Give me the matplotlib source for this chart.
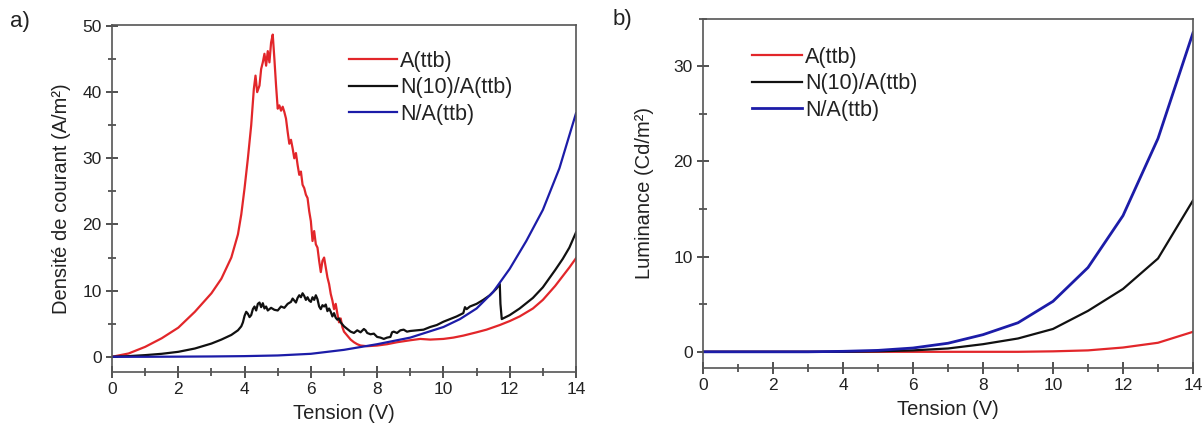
import matplotlib
matplotlib.use("Agg")
import matplotlib.pyplot as plt
from matplotlib.ticker import MultipleLocator

plt.rcParams['font.family'] = ['Liberation Sans', 'DejaVu Sans']

# ---------------- data: panel a (current density) ----------------
a_red_x = [0.0, 0.5, 1.0, 1.5, 2.0, 2.5, 3.0, 3.3, 3.6, 3.8, 3.9, 4.0, 4.1, 4.2, 4.28, 4.33,
           4.38, 4.45, 4.5, 4.55, 4.6, 4.65, 4.7, 4.75, 4.8, 4.85, 4.9, 4.95, 5.0, 5.05, 5.1,
           5.15, 5.2, 5.25, 5.3, 5.35, 5.4, 5.45, 5.5, 5.55, 5.6, 5.65, 5.7, 5.75, 5.8, 5.85,
           5.9, 5.95, 6.0, 6.05, 6.1, 6.15, 6.2, 6.25, 6.3, 6.35, 6.4, 6.45, 6.5, 6.55, 6.6,
           6.65, 6.7, 6.75, 6.8, 6.85, 6.9, 6.95, 7.0, 7.1, 7.2, 7.3, 7.4, 7.5, 7.7, 8.0, 8.3,
           8.6, 9.0, 9.3, 9.6, 10.0, 10.3, 10.6, 11.0, 11.3, 11.7, 12.0, 12.3, 12.7, 13.0,
           13.37, 13.6, 13.8, 14.0]
a_red_y = [0.0, 0.5, 1.5, 2.8, 4.4, 6.8, 9.6, 11.8, 15.0, 18.5, 21.5, 25.5, 30.0, 35.0, 40.5, 42.5,
           40.0, 41.0, 43.5, 44.5, 45.8, 44.0, 46.2, 44.5, 47.5, 48.7, 45.0, 41.0, 37.5, 38.0, 37.2,
           37.8, 37.0, 36.0, 34.0, 32.2, 32.8, 31.5, 30.0, 30.8, 29.0, 27.5, 28.0, 26.0, 25.5, 24.5,
           24.0, 22.0, 20.5, 17.5, 19.0, 17.0, 16.5, 14.5, 12.8, 14.5, 15.0, 13.5, 12.0, 11.0, 9.5,
           8.5, 7.2, 8.0, 6.5, 5.2, 5.8, 4.5, 3.8, 3.2, 2.6, 2.2, 1.9, 1.7, 1.6, 1.7, 1.9,
           2.2, 2.5, 2.7, 2.6, 2.7, 2.9, 3.2, 3.7, 4.1, 4.8, 5.4, 6.1, 7.3, 8.6,
           10.7, 12.2, 13.5, 14.9]

a_black_x = [0.0, 0.5, 1.0, 1.5, 2.0, 2.5, 3.0, 3.3, 3.6, 3.8, 3.9, 3.95, 4.0, 4.05, 4.1, 4.15,
             4.2, 4.25, 4.3, 4.35, 4.4, 4.45, 4.5, 4.55, 4.6, 4.65, 4.7, 4.8, 4.9, 5.0, 5.1, 5.2,
             5.3, 5.4, 5.45, 5.5, 5.55, 5.6, 5.65, 5.7, 5.75, 5.8, 5.85, 5.9, 5.95, 6.0, 6.05,
             6.1, 6.15, 6.2, 6.25, 6.3, 6.35, 6.4, 6.45, 6.5, 6.55, 6.6, 6.65, 6.7, 6.75, 6.8,
             6.85, 6.9, 6.95, 7.0, 7.1, 7.2, 7.3, 7.4, 7.5, 7.6, 7.65, 7.7, 7.8, 7.9, 8.0, 8.1,
             8.2, 8.3, 8.4, 8.45, 8.5, 8.6, 8.7, 8.8, 8.9, 9.0, 9.2, 9.4, 9.6, 9.8, 10.0, 10.2,
             10.4, 10.6, 10.65, 10.7, 10.8, 11.0, 11.2, 11.4, 11.6, 11.7, 11.72, 11.76, 12.0,
             12.3, 12.7, 13.0, 13.37, 13.6, 13.8, 14.0]
a_black_y = [0.0, 0.1, 0.25, 0.45, 0.75, 1.25, 2.0, 2.6, 3.3, 4.0, 4.6, 5.2, 6.2, 6.8, 6.5, 6.0,
             6.3, 7.2, 7.6, 7.0, 8.0, 8.2, 7.5, 8.1, 7.3, 7.6, 7.0, 7.4, 7.1, 7.0, 7.6, 7.4,
             8.0, 8.3, 8.8, 8.5, 8.2, 8.9, 9.3, 9.0, 9.6, 9.2, 8.6, 9.0, 8.5, 8.3, 9.0,
             8.6, 9.3, 8.7, 7.6, 7.2, 7.8, 7.6, 7.9, 6.9, 7.3, 6.8, 6.1, 6.6, 5.9, 5.6,
             5.8, 5.2, 4.9, 4.6, 4.2, 3.8, 3.6, 4.0, 3.7, 4.2, 4.0, 3.6, 3.4, 3.5, 3.0, 2.9,
             2.7, 2.9, 3.0, 3.7, 3.8, 3.6, 4.0, 4.1, 3.8, 3.9, 4.0, 4.1, 4.5, 4.8, 5.3, 5.7,
             6.1, 6.6, 7.5, 7.2, 7.6, 8.0, 8.6, 9.3, 10.3, 11.0, 8.0, 5.7, 6.3,
             7.3, 8.9, 10.5, 13.1, 14.8, 16.5, 18.8]

a_blue_x = [0, 1, 2, 3, 4, 5, 6, 7, 8, 9, 10, 10.5, 11, 11.5, 12, 12.5, 13, 13.5, 14]
a_blue_y = [0.0, 0.0, 0.02, 0.05, 0.1, 0.2, 0.45, 1.05, 1.9, 2.9, 4.5, 5.7, 7.3, 9.8, 13.3,
            17.5, 22.2, 28.5, 36.8]

# ---------------- data: panel b (luminance) ----------------
b_x = [0, 1, 2, 3, 4, 5, 6, 7, 8, 9, 10, 11, 12, 13, 14]
b_red = [0, 0, 0, 0, 0, 0, 0, 0, 0, 0, 0.05, 0.15, 0.45, 0.95, 2.1]
b_black = [0, 0, 0, 0, 0, 0.05, 0.15, 0.35, 0.8, 1.4, 2.4, 4.3, 6.6, 9.8, 15.9]
b_blue = [0, 0, 0, 0, 0.05, 0.15, 0.4, 0.9, 1.8, 3.05, 5.3, 8.85, 14.3, 22.4, 33.5]

labels = ['A(ttb)', 'N(10)/A(ttb)', 'N/A(ttb)']
labels_b = ['A(ttb)', 'N(10)/A(ttb)', 'N/A(ttb)']
RED, BLACK, BLUE = '#e2262a', '#111111', '#1c1ca8'

fig = plt.figure(figsize=(12.03, 4.30), dpi=100)
ax1 = fig.add_axes([112 / 1203, (430 - 372) / 430, 464 / 1203, 347 / 430])
ax2 = fig.add_axes([703 / 1203, (430 - 368) / 430, 490 / 1203, 349.5 / 430])

lw = 1.6
ax1.plot(a_red_x, a_red_y, color=RED, lw=lw, label=labels[0])
ax1.plot(a_black_x, a_black_y, color=BLACK, lw=lw, label=labels[1])
ax1.plot(a_blue_x, a_blue_y, color=BLUE, lw=lw, label=labels[2])
ax1.set_xlim(0, 14)
ax1.set_ylim(-2.3, 50.15)
ax1.yaxis.set_major_locator(MultipleLocator(10))
ax1.yaxis.set_minor_locator(MultipleLocator(5))

ax2.plot(b_x, b_red, color=RED, lw=lw, label=labels_b[0])
ax2.plot(b_x, b_black, color=BLACK, lw=lw, label=labels_b[1])
ax2.plot(b_x, b_blue, color=BLUE, lw=2.0, label=labels_b[2])
ax2.set_xlim(0, 14)
ax2.set_ylim(-1.7, 35)
ax2.yaxis.set_major_locator(MultipleLocator(10))
ax2.yaxis.set_minor_locator(MultipleLocator(5))

for ax in (ax1, ax2):
    ax.xaxis.set_major_locator(MultipleLocator(2))
    ax.xaxis.set_minor_locator(MultipleLocator(1))
    for s in ax.spines.values():
        s.set_color('#555555')
        s.set_linewidth(1.2)
    ax.tick_params(which='major', direction='inout', length=9, width=1.2,
                   color='#333333', labelsize=12.5, labelcolor='#222222', pad=3,
                   top=False, right=False)
    ax.tick_params(which='minor', direction='inout', length=6, width=1.1,
                   color='#333333', top=False, right=False)
    ax.set_xlabel('Tension (V)', fontsize=14.5, color='#222222', labelpad=5)

ax1.set_ylabel('Densité de courant (A/m²)', fontsize=14.5, color='#222222', labelpad=8)
ax2.set_ylabel('Luminance (Cd/m²)', fontsize=14.5, color='#222222', labelpad=14)

leg1 = ax1.legend(loc='upper left', bbox_to_anchor=(0.493, 0.95), frameon=False,
                  fontsize=15.5, handlelength=2.23, handletextpad=0.14,
                  labelspacing=0.25, borderaxespad=0)
leg2 = ax2.legend(loc='upper left', bbox_to_anchor=(0.082, 0.943), frameon=False,
                  fontsize=15.5, handlelength=2.33, handletextpad=0.14,
                  labelspacing=0.25, borderaxespad=0)
for leg in (leg1, leg2):
    for t in leg.get_texts():
        t.set_color('#222222')

fig.text(10 / 1203, 1 - 22 / 430, 'a)', fontsize=16, color='#222222', va='center', ha='left')
fig.text(613 / 1203, 1 - 20 / 430, 'b)', fontsize=16, color='#222222', va='center', ha='left')

fig.savefig('out.png', dpi=100)
